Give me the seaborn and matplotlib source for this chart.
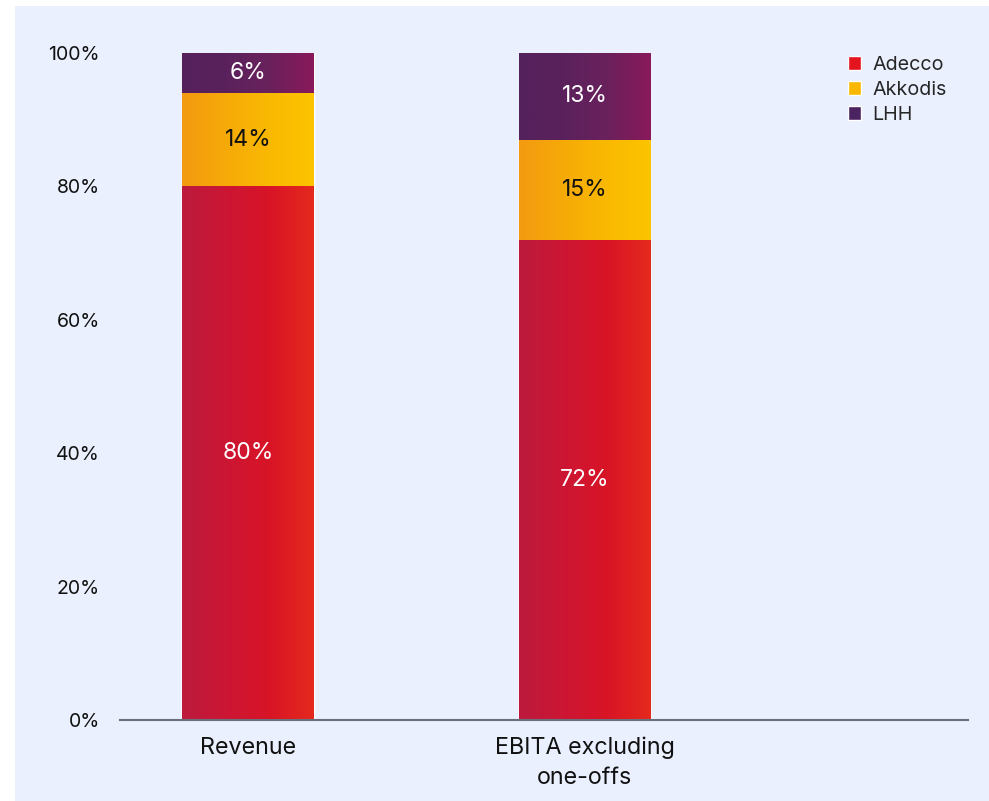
import numpy as np
import pandas as pd
import matplotlib
matplotlib.use("Agg")
import matplotlib.pyplot as plt
from matplotlib.colors import LinearSegmentedColormap
from matplotlib.patches import Rectangle
import seaborn as sns

# Datos del grafico
categorias = ["Revenue", "EBITA excluding\none-offs"]
segmentos = ["Adecco", "Akkodis", "LHH"]
adecco = [80, 72]
akkodis = [14, 15]
lhh = [6, 13]

# Colores (degradado izquierda -> derecha) y colores de la leyenda
degradados = {
    "Adecco": ["#BC1A3D", "#CC1634", "#D81426", "#E52A1D"],
    "Akkodis": ["#F39A11", "#F6AA08", "#FAB902", "#FCC400"],
    "LHH": ["#55215C", "#5A225C", "#6A215C", "#89195A"],
}
colores_leyenda = {"Adecco": "#E3141E", "Akkodis": "#F9B700", "LHH": "#4A2360"}
color_texto = {"Adecco": "white", "Akkodis": "#111111", "LHH": "white"}
fondo = "#EAF0FE"

sns.set_style("white")
plt.rcParams["font.family"] = ["Inter", "DejaVu Sans"]

df = pd.DataFrame({"categoria": categorias, "Adecco": adecco,
                   "Akkodis": akkodis, "LHH": lhh})
# Acumulados para apilar las barras
df["c_Adecco"] = df["Adecco"]
df["c_Akkodis"] = df["c_Adecco"] + df["Akkodis"]
df["c_LHH"] = df["c_Akkodis"] + df["LHH"]

fig = plt.figure(figsize=(9.89, 8.01), dpi=100)
fig.patch.set_facecolor("white")
fig.patches.append(Rectangle((15 / 989, 0), 974 / 989, 795 / 801,
                             transform=fig.transFigure, facecolor=fondo,
                             edgecolor="none", zorder=-10))
ax = fig.add_axes([120 / 989, (801 - 720) / 801, 848 / 989, 667 / 801])
ax.set_facecolor("none")

ancho = 0.389
for seg in reversed(segmentos):
    sns.barplot(data=df, x="categoria", y="c_" + seg, color=colores_leyenda[seg],
                width=ancho, ax=ax, label=seg, zorder=1)

# Degradados encima de cada segmento
grad = np.linspace(0, 1, 256).reshape(1, -1)
abajo = [0] * len(categorias)
for seg in segmentos:
    cmap = LinearSegmentedColormap.from_list(seg, degradados[seg])
    for i, cat in enumerate(categorias):
        x0 = i - ancho / 2
        arriba = df["c_" + seg].iloc[i]
        ax.imshow(grad, cmap=cmap, extent=[x0, x0 + ancho, abajo[i], arriba],
                  aspect="auto", zorder=2, interpolation="bilinear")
        ax.text(i, (abajo[i] + arriba) / 2, f"{df[seg].iloc[i]}%",
                ha="center", va="center", fontsize=16.5,
                color=color_texto[seg], zorder=3)
    abajo = list(df["c_" + seg])

ax.set_xlim(-0.38, 2.137)
ax.set_ylim(0, 100)
ax.set_yticks(range(0, 101, 20))
ax.set_yticklabels([f"{v}%" for v in range(0, 101, 20)], fontsize=14,
                   color="#111111")
ax.set_xticks(range(len(categorias)))
ax.set_xticklabels(categorias, fontsize=16.8, color="#111111", linespacing=1.45)
ax.tick_params(axis="both", length=0)
ax.tick_params(axis="y", pad=14.4)
ax.tick_params(axis="x", pad=12)
ax.set_xlabel("")
ax.set_ylabel("")
for lado in ["top", "right", "left"]:
    ax.spines[lado].set_visible(False)
ax.spines["bottom"].set_color("#6B6E7B")
ax.spines["bottom"].set_linewidth(1.5)

handles = [Rectangle((0, 0), 1, 1, facecolor=colores_leyenda[s]) for s in segmentos]
ax.legend(handles, segmentos, loc="upper right", bbox_to_anchor=(0.996, 1.0225),
          frameon=False, fontsize=14.2, handlelength=0.65, handleheight=0.7,
          handletextpad=0.6, labelspacing=0.35)

fig.savefig("out.png", dpi=100)
